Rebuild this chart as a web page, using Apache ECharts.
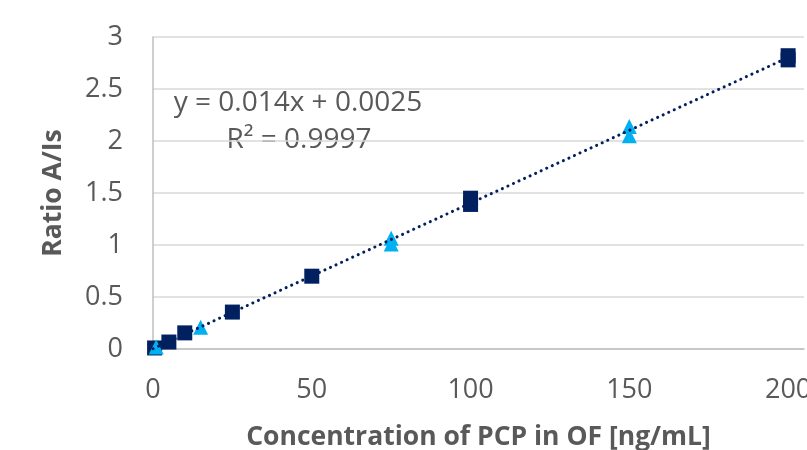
<!DOCTYPE html>
<html lang="en">
<head>
    <meta charset="UTF-8">
    <script src="https://cdn.jsdelivr.net/npm/echarts@6/dist/echarts.min.js"></script>
    <title>PCP calibration</title>
</head>
<body style="margin:0">
<div id="main" style="width: 807px;height:450px;"></div>
<script type="text/javascript">
    // calibration points
    var squareX = [0.5, 5, 10, 25, 50, 100, 100, 200, 200];
    var squareY = [0.01, 0.067, 0.155, 0.355, 0.70, 1.39, 1.45, 2.78, 2.82];
    var triangleX = [1, 15, 75, 75, 150, 150];
    var triangleY = [0.02, 0.21, 1.01, 1.065, 2.05, 2.14];
    // trendline ends, from y = 0.014x + 0.0025
    var trendX = [0, 200];
    var trendY = [0.0025, 2.8025];
    var xTicks = [0, 50, 100, 150, 200];

    function pairs(xs, ys) {
        return xs.map(function (x, i) { return [x, ys[i]]; });
    }

    var myChart = echarts.init(document.getElementById('main'));
    var grey = '#595959';
    var font = '"Open Sans", sans-serif';

    var option = {
        animation: false,
        grid: { left: 153, top: 37, right: 3, bottom: 101, outerBoundsMode: 'none', containLabel: false },
        xAxis: {
            type: 'value',
            min: 0,
            max: 205,
            interval: 50,
            name: 'Concentration of PCP in OF [ng/mL]',
            nameLocation: 'middle',
            nameGap: 75,
            nameTextStyle: { color: grey, fontSize: 26.5, fontWeight: 'bold', fontFamily: font },
            axisLine: { lineStyle: { color: '#BFBFBF', width: 1.5 } },
            axisTick: { show: false },
            splitLine: { show: false },
            axisLabel: {
                color: grey, fontSize: 27, fontFamily: font, margin: 28,
                hideOverlap: false,
                formatter: function (v) { return xTicks.indexOf(v) >= 0 ? String(v) : ''; }
            }
        },
        yAxis: {
            type: 'value',
            min: 0,
            max: 3,
            interval: 0.5,
            name: 'Ratio A/Is',
            nameLocation: 'middle',
            nameGap: 86,
            nameTextStyle: { color: grey, fontSize: 26.5, fontWeight: 'bold', fontFamily: font },
            axisLine: { show: true, lineStyle: { color: '#BFBFBF', width: 1.5 } },
            axisTick: { show: false },
            splitLine: { lineStyle: { color: '#D9D9D9', width: 1.5 } },
            axisLabel: { color: grey, fontSize: 27, fontFamily: font, margin: 30 }
        },
        graphic: [{
            type: 'text',
            x: 298,
            y: 103,
            style: {
                text: 'y = 0.014x + 0.0025',
                align: 'center',
                verticalAlign: 'middle',
                fill: grey,
                fontSize: 28,
                fontFamily: font
            }
        }, {
            type: 'text',
            x: 299,
            y: 140,
            style: {
                text: 'R² = 0.9997',
                align: 'center',
                verticalAlign: 'middle',
                fill: grey,
                fontSize: 28,
                fontFamily: font
            }
        }],
        series: [{
            type: 'scatter',
            symbol: 'rect',
            symbolSize: 15,
            itemStyle: { color: '#002060', opacity: 1 },
            data: pairs(squareX, squareY),
            z: 2
        }, {
            type: 'scatter',
            symbol: 'triangle',
            symbolSize: 15,
            itemStyle: { color: '#00B0F0', opacity: 1 },
            data: pairs(triangleX, triangleY),
            z: 3
        }, {
            type: 'line',
            symbol: 'none',
            lineStyle: { color: '#002060', width: 3, type: [0.1, 6], cap: 'round' },
            data: pairs(trendX, trendY),
            z: 4
        }]
    };

    myChart.setOption(option);
</script>
</body>
</html>
